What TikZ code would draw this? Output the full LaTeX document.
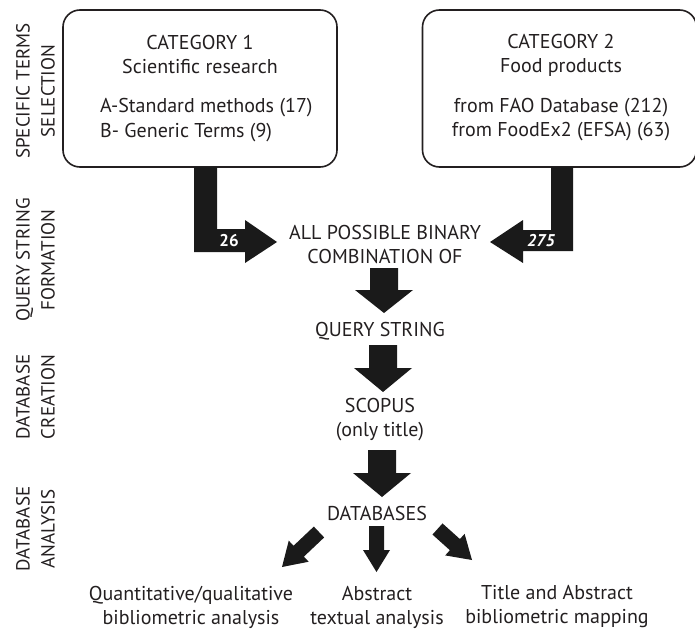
\documentclass[tikz,border=0pt]{standalone}
\usepackage{fontspec}
\setmainfont{PT Sans}
\usetikzlibrary{calc}
\definecolor{ink}{HTML}{231F20}
\definecolor{arrowink}{HTML}{1A1A1A}

% Block arrow: start, tip, half shaft width, half head width, head length
\newcommand{\blockarrow}[5]{%
  \coordinate (bahead) at ($(#2)!#5!(#1)$);
  \fill[arrowink] ($(#1)!#3!90:(#2)$) -- ($(bahead)!#3!90:(#2)$)
    -- ($(bahead)!#4!90:(#2)$) -- (#2) -- ($(bahead)!#4!-90:(#2)$)
    -- ($(bahead)!#3!-90:(#2)$) -- ($(#1)!#3!-90:(#2)$) -- cycle;}

\begin{document}
\begin{tikzpicture}[x=1pt,y=-1pt,
  txt/.style={inner sep=0pt, text=ink, font=\fontsize{20}{24}\selectfont, align=center},
  sidelabel/.style={txt, font=\fontsize{19}{25}\selectfont, rotate=90},
  catbox/.style={draw=ink, line width=1.6pt, rounded corners=17pt, inner sep=0pt,
    minimum width=274pt, minimum height=157pt},
  count/.style={inner sep=0pt, text=white, font=\fontsize{17}{17}\selectfont\bfseries}]
\useasboundingbox (0,0) rectangle (695,631);

% stage labels on the left
\node[sidelabel] (lab1) at (35.5,91)  {SPECIFIC TERMS\\SELECTION};
\node[sidelabel] (lab2) at (35.5,260) {QUERY STRING\\FORMATION};
\node[sidelabel] (lab3) at (35.5,397) {DATABASE\\CREATION};
\node[sidelabel] (lab4) at (35.5,529) {DATABASE\\ANALYSIS};

% the two term categories
\node[catbox] (cat1) at (200,88.5) {};
\node[catbox] (cat2) at (559.5,88.5) {};
\node[txt] (c1title) at (200,55) {CATEGORY 1\\Scientific research};
\node[txt, anchor=west] (c1a) at (100,108) {A-Standard methods (17)};
\node[txt, anchor=west] (c1b) at (100,133) {B- Generic Terms (9)};
\node[txt] (c2title) at (561,55) {CATEGORY 2\\Food products};
\node[txt] (c2a) at (561,108) {from FAO Database (212)};
\node[txt] (c2b) at (561,132) {from FoodEx2 (EFSA) (63)};

% main flow
\node[txt] (combo) at (385,244) {ALL POSSIBLE BINARY\\COMBINATION OF};
\node[txt] (query) at (380,331) {QUERY STRING};
\node[txt] (scopus) at (380,420) {SCOPUS\\(only title)};
\node[txt] (dbs) at (377,513) {DATABASES};
\node[txt] (out1) at (191,607) {Quantitative/qualitative\\bibliometric analysis};
\node[txt] (out2) at (377,607) {Abstract\\textual analysis};
\node[txt] (out3) at (557,607) {Title and Abstract\\bibliometric mapping};

% elbow arrows from the categories into the combination step
\coordinate (e1s) at (205.5,167);
\coordinate (e1t) at (277,242);
\fill[arrowink] ([xshift=-11.5pt]e1s) -- ([xshift=11.5pt]e1s) -- (217,229) -- (245,229)
  -- (245,220) -- (e1t) -- (245,263) -- (245,252) -- (194,252) -- cycle;
\node[count] (n26) at (229,241) {26};

\coordinate (e2s) at (562,167);
\coordinate (e2t) at (490,242);
\fill[arrowink] ([xshift=-11pt]e2s) -- ([xshift=11pt]e2s) -- (573,251) -- (523,251)
  -- (523,263) -- (e2t) -- (523,220) -- (523,230) -- (551,230) -- cycle;
\node[count, font=\fontsize{17}{17}\selectfont\bfseries\itshape] (n275) at (541,241) {275};

% downward arrows between steps
\coordinate (a1s) at (384,268); \coordinate (a1t) at (384,313);
\coordinate (a2s) at (383,345); \coordinate (a2t) at (383,392);
\coordinate (a3s) at (382,450); \coordinate (a3t) at (382,497);
\blockarrow{a1s}{a1t}{14pt}{29pt}{23pt}
\blockarrow{a2s}{a2t}{14pt}{29pt}{24pt}
\blockarrow{a3s}{a3t}{14pt}{29pt}{24pt}

% three branches of the analysis
\coordinate (b1s) at (319,532);   \coordinate (b1t) at (282,567);
\coordinate (b2s) at (376.5,526); \coordinate (b2t) at (376.5,572);
\coordinate (b3s) at (437.5,529); \coordinate (b3t) at (472,560);
\blockarrow{b1s}{b1t}{7.5pt}{14.5pt}{23pt}
\blockarrow{b2s}{b2t}{7.5pt}{13.5pt}{22pt}
\blockarrow{b3s}{b3t}{7.5pt}{14.5pt}{23pt}
\end{tikzpicture}
\end{document}
